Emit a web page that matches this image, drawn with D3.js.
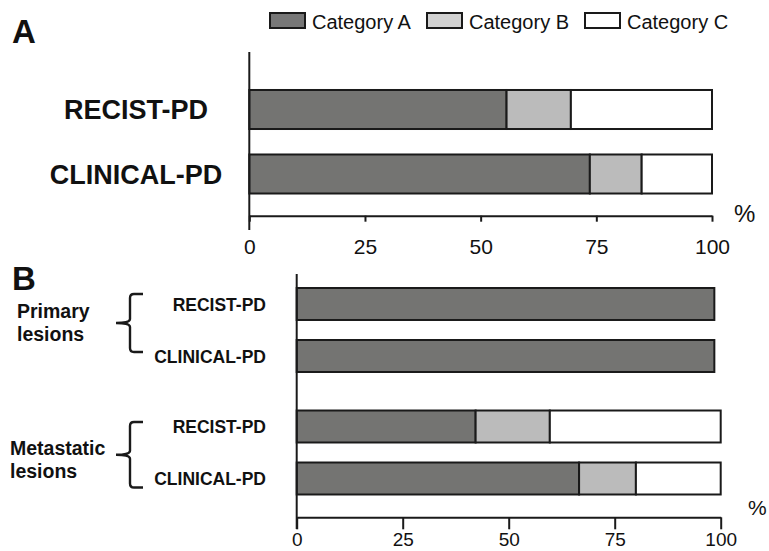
<!DOCTYPE html>
<html>
<head>
<meta charset="utf-8">
<script src="https://cdn.jsdelivr.net/npm/d3@7"></script>
<style>
  body { margin: 0; background: #fff; }
  svg { font-family: Arial, "Liberation Sans", sans-serif; }
</style>
</head>
<body>
<div id="chart"></div>
<script>
// data (percent)
var seriesKeys = ["Category A", "Category B", "Category C"];
var seriesColors = ["#747472", "#bbbbbb", "#ffffff"];
var legendColors = ["#777777", "#d2d2d2", "#ffffff"];

var rowsA = ["RECIST-PD", "CLINICAL-PD"];
var catA_A = [55.6, 73.6];
var catB_A = [13.9, 11.2];
var catC_A = [30.5, 15.2];

var groupsB = ["Primary lesions", "Metastatic lesions"];
var rowsB = ["RECIST-PD", "CLINICAL-PD"];
var catA_B = [98.5, 98.5, 42.2, 66.6];
var catB_B = [0, 0, 17.5, 13.4];
var catC_B = [0, 0, 40.3, 20.0];

var xTicks = [0, 25, 50, 75, 100];

var svg = d3.select("#chart").append("svg")
  .attr("width", 769)
  .attr("height", 551);

// build stack input
function makeRows(labels, a, b, c) {
  return labels.map(function(l, i) {
    return { key: l, "Category A": a[i], "Category B": b[i], "Category C": c[i] };
  });
}
var stack = d3.stack().keys(seriesKeys);

// ---------- legend ----------
var legendX = [270, 427, 585];
var legend = svg.append("g");
seriesKeys.forEach(function(k, i) {
  legend.append("rect")
    .attr("x", legendX[i]).attr("y", 13)
    .attr("width", 35).attr("height", 15)
    .attr("fill", legendColors[i])
    .attr("stroke", "#1a1a1a").attr("stroke-width", 2);
  legend.append("text")
    .attr("x", legendX[i] + 42).attr("y", 28.5)
    .attr("font-size", 20)
    .attr("fill", "#111")
    .text(k);
});

// ---------- panel A ----------
svg.append("text").attr("x", 12).attr("y", 43)
  .attr("font-size", 33).attr("font-weight", "bold").attr("fill", "#111").text("A");

var xA = d3.scaleLinear().domain([0, 100]).range([249.3, 712]);
var yA = d3.scaleBand().domain(rowsA).range([77.25, 206.25]).paddingInner(0.395).paddingOuter(0.1975);

var dataA = makeRows(rowsA, catA_A, catB_A, catC_A);
var gA = svg.append("g");
gA.selectAll("g.series")
  .data(stack(dataA))
  .enter().append("g")
  .attr("fill", function(d, i) { return seriesColors[i]; })
  .selectAll("rect")
  .data(function(d) { return d; })
  .enter().append("rect")
  .attr("x", function(d) { return xA(d[0]); })
  .attr("width", function(d) { return xA(d[1]) - xA(d[0]); })
  .attr("y", function(d) { return yA(d.data.key); })
  .attr("height", yA.bandwidth())
  .attr("stroke", "#1a1a1a").attr("stroke-width", 2);

gA.selectAll("text.row")
  .data(rowsA)
  .enter().append("text")
  .attr("class", "row")
  .attr("x", 136)
  .attr("y", function(d) { return yA(d) + yA.bandwidth() / 2 + 9.5; })
  .attr("text-anchor", "middle")
  .attr("font-size", 27).attr("font-weight", "bold").attr("fill", "#111")
  .text(function(d) { return d; });

var axisA = svg.append("g")
  .attr("transform", "translate(0,215.7)")
  .call(d3.axisBottom(xA).tickValues(xTicks).tickSize(6).tickSizeOuter(0).tickPadding(17));
axisA.select(".domain").attr("stroke", "#1a1a1a").attr("stroke-width", 2);
axisA.selectAll(".tick line").attr("stroke", "#1a1a1a").attr("stroke-width", 2);
axisA.selectAll(".tick text").attr("font-size", 21).attr("font-family", null).attr("fill", "#111");

svg.append("line")
  .attr("x1", xA(0)).attr("x2", xA(0)).attr("y1", 52).attr("y2", 230)
  .attr("stroke", "#1a1a1a").attr("stroke-width", 2);

svg.append("text").attr("x", 734).attr("y", 221.5)
  .attr("font-size", 24).attr("fill", "#111").text("%");

// ---------- panel B ----------
svg.append("text").attr("x", 12).attr("y", 290)
  .attr("font-size", 33).attr("font-weight", "bold").attr("fill", "#111").text("B");

var xB = d3.scaleLinear().domain([0, 100]).range([296.7, 720.7]);
var groupY = d3.scaleBand().domain(groupsB).range([278, 504.5]).paddingInner(0.151);
var rowY = d3.scaleBand().domain(rowsB).range([0, groupY.bandwidth()]).paddingInner(0.385).paddingOuter(0.1925);

var dataB = [];
groupsB.forEach(function(g, gi) {
  rowsB.forEach(function(r, ri) {
    var i = gi * rowsB.length + ri;
    dataB.push({ key: g + "|" + r, group: g, row: r,
      "Category A": catA_B[i], "Category B": catB_B[i], "Category C": catC_B[i] });
  });
});
function rowTop(d) { return groupY(d.group) + rowY(d.row); }

var gB = svg.append("g");
gB.selectAll("g.series")
  .data(stack(dataB))
  .enter().append("g")
  .attr("fill", function(d, i) { return seriesColors[i]; })
  .selectAll("rect")
  .data(function(d) { return d.filter(function(s) { return s[1] > s[0]; }); })
  .enter().append("rect")
  .attr("x", function(d) { return xB(d[0]); })
  .attr("width", function(d) { return xB(d[1]) - xB(d[0]); })
  .attr("y", function(d) { return rowTop(d.data); })
  .attr("height", rowY.bandwidth())
  .attr("stroke", "#1a1a1a").attr("stroke-width", 2);

gB.selectAll("text.row")
  .data(dataB)
  .enter().append("text")
  .attr("class", "row")
  .attr("x", 266)
  .attr("y", function(d) { return rowTop(d) + rowY.bandwidth() / 2 + 6.5; })
  .attr("text-anchor", "end")
  .attr("font-size", 17.5).attr("font-weight", "bold").attr("fill", "#111")
  .text(function(d) { return d.row; });

// group labels with braces
var groupLabelX = [17, 10];
var braceTopOff = [-10, -4.5];
var braceBotOff = [-4, 9];
var labelOff = [-5, 0];
groupsB.forEach(function(g, gi) {
  var c1 = groupY(g) + rowY(rowsB[0]) + rowY.bandwidth() / 2;
  var c2 = groupY(g) + rowY(rowsB[1]) + rowY.bandwidth() / 2;
  var top = c1 + braceTopOff[gi];
  var bot = c2 + braceBotOff[gi];
  var mid = (top + bot) / 2;
  var bx = 130, r = 4;
  var p = d3.path();
  p.moveTo(143, top);
  p.lineTo(bx + r, top);
  p.quadraticCurveTo(bx, top, bx, top + r);
  p.lineTo(bx, mid - r);
  p.quadraticCurveTo(bx, mid, bx - 14, mid);
  p.moveTo(bx - 14, mid);
  p.quadraticCurveTo(bx, mid, bx, mid + r);
  p.lineTo(bx, bot - r);
  p.quadraticCurveTo(bx, bot, bx + r, bot);
  p.lineTo(143, bot);
  svg.append("path").attr("d", p.toString())
    .attr("fill", "none").attr("stroke", "#1a1a1a").attr("stroke-width", 2.4);

  var words = g.split(" ");
  var firstBase = mid + labelOff[gi];
  words.forEach(function(w, wi) {
    svg.append("text")
      .attr("x", groupLabelX[gi]).attr("y", firstBase + wi * 23)
      .attr("font-size", 19.5).attr("font-weight", "bold").attr("fill", "#111")
      .text(w);
  });
});

var axisB = svg.append("g")
  .attr("transform", "translate(0,517.3)")
  .call(d3.axisBottom(xB).tickValues(xTicks).tickSize(12).tickSizeOuter(0).tickPadding(3));
axisB.select(".domain").attr("stroke", "#1a1a1a").attr("stroke-width", 2);
axisB.selectAll(".tick line").attr("stroke", "#1a1a1a").attr("stroke-width", 2);
axisB.selectAll(".tick text").attr("font-size", 19).attr("font-family", null).attr("fill", "#111");

svg.append("line")
  .attr("x1", xB(0)).attr("x2", xB(0)).attr("y1", 274).attr("y2", 529)
  .attr("stroke", "#1a1a1a").attr("stroke-width", 2);

svg.append("text").attr("x", 748).attr("y", 515)
  .attr("font-size", 21).attr("fill", "#111").text("%");
</script>
</body>
</html>
